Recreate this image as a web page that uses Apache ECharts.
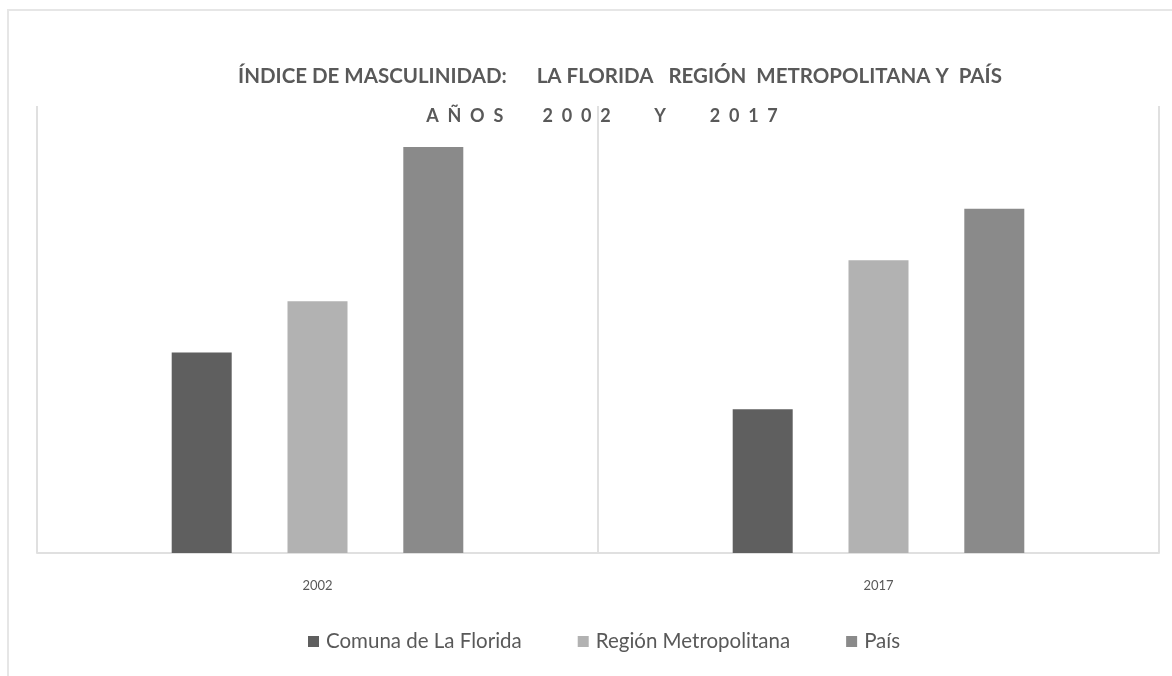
<!DOCTYPE html>
<html>
<head>
<meta charset="utf-8">
<title>Índice de masculinidad</title>
<script src="https://cdn.jsdelivr.net/npm/echarts@6/dist/echarts.min.js"></script>
<style>
  html, body { margin: 0; padding: 0; background: #fff; }
  #chart { width: 1172px; height: 676px; }
</style>
</head>
<body>
<div id="chart"></div>
<script>
// data (y axis is hidden in the original)
const years = ['2002', '2017']
const comunaLaFlorida = [93.2, 92.1]
const regionMetropolitana = [94.2, 95.0]
const pais = [97.2, 96.0]

const textColor = '#595959'
const lineColor = '#e0e0e0'

const chart = echarts.init(document.getElementById('chart'))

const barSeries = (name, data, color) => ({
  name: name,
  type: 'bar',
  data: data,
  barWidth: 60,
  barGap: '93%',
  itemStyle: { color: color },
  emphasis: { disabled: true }
})

const options = {
  backgroundColor: '#fff',
  animation: false,
  title: [
    {
      text: 'ÍNDICE DE MASCULINIDAD:      LA FLORIDA   REGIÓN  METROPOLITANA Y  PAÍS',
      left: 615,
      textAlign: 'center',
      top: 61,
      textStyle: { fontFamily: 'Lato', fontWeight: 'bold', fontSize: 20.5, color: textColor }
    },
    {
      text: 'A  Ñ  O  S         2  0  0  2          Y          2  0  1  7',
      left: 597,
      textAlign: 'center',
      top: 102,
      textStyle: { fontFamily: 'Lato', fontWeight: 'bold', fontSize: 18, color: textColor }
    }
  ],
  graphic: [
    {
      type: 'rect',
      shape: { x: 8, y: 10, width: 1180, height: 700 },
      style: { fill: null, stroke: '#e6e6e6', lineWidth: 2 },
      silent: true
    }
  ],
  legend: {
    top: 626,
    left: 303,
    itemWidth: 11,
    itemHeight: 11,
    itemGap: 56,
    icon: 'rect',
    textStyle: { fontFamily: 'Lato', fontSize: 20.5, color: textColor, padding: [0, 0, 0, 2] },
    data: ['Comuna de La Florida', 'Región Metropolitana', 'País']
  },
  grid: {
    left: 37,
    right: 13,
    top: 106,
    bottom: 123
  },
  xAxis: {
    type: 'category',
    data: years,
    axisLine: { lineStyle: { color: lineColor, width: 2 } },
    axisTick: { show: false },
    splitLine: { show: true, interval: 0, lineStyle: { color: lineColor, width: 2 } },
    axisLabel: { fontFamily: 'Lato', fontSize: 13, color: textColor, margin: 26 }
  },
  yAxis: {
    type: 'value',
    min: 89.3,
    max: 98,
    show: false
  },
  series: [
    barSeries('Comuna de La Florida', comunaLaFlorida, '#5f5f5f'),
    barSeries('Región Metropolitana', regionMetropolitana, '#b2b2b2'),
    barSeries('País', pais, '#8a8a8a')
  ]
}

chart.setOption(options)
</script>
</body>
</html>
